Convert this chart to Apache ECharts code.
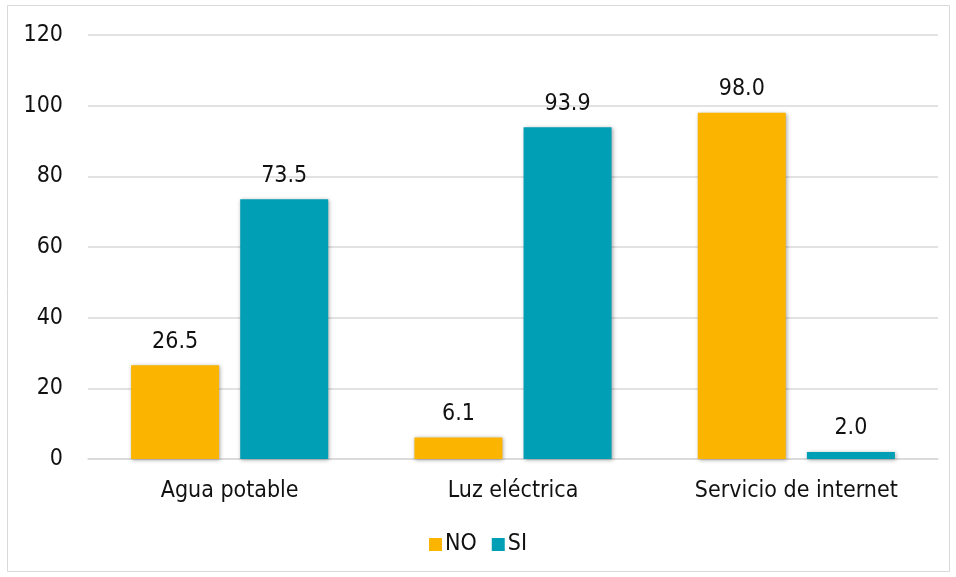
<!DOCTYPE html>
<html>
<head>
<meta charset="utf-8">
<script src="https://cdn.jsdelivr.net/npm/echarts@6/dist/echarts.min.js"></script>
<style>
  html, body { margin: 0; padding: 0; background: #fff; }
  #chart { width: 956px; height: 577px; }
</style>
</head>
<body>
<div id="chart"></div>
<script>
// Servicios básicos: porcentaje de hogares sin (NO) y con (SI) cada servicio
const categories = ['Agua potable', 'Luz eléctrica', 'Servicio de internet'];
const valuesNo = [26.5, 6.1, 98.0];
const valuesSi = [73.5, 93.9, 2.0];
const yTicks = { min: 0, max: 120, interval: 20 };

const FONT = '"DejaVu Sans Condensed", "DejaVu Sans", sans-serif';
const TEXT = '#111';
const SIZE = 23;
const shadow = { shadowBlur: 4, shadowOffsetX: 1, shadowOffsetY: 1, shadowColor: 'rgba(0,0,0,0.35)' };

const chart = echarts.init(document.getElementById('chart'), null, { renderer: 'canvas' });

const labelStyle = {
  show: true,
  position: 'top',
  distance: 12,
  color: TEXT,
  fontFamily: FONT,
  fontSize: SIZE,
  formatter: p => p.value.toFixed(1)
};

chart.setOption({
  animation: false,
  backgroundColor: '#fff',
  textStyle: { fontFamily: FONT },
  graphic: [{
    type: 'rect',
    shape: { x: 7.5, y: 5.5, width: 942, height: 566 },
    style: { fill: 'none', stroke: '#d9d9d9', lineWidth: 1 },
    silent: true
  }],
  grid: { left: 88, right: 18, top: 35, bottom: 118, containLabel: false },
  legend: {
    bottom: 16,
    left: 'center',
    itemWidth: 13,
    itemHeight: 13,
    itemGap: 15,
    icon: 'rect',
    textStyle: { color: TEXT, fontFamily: FONT, fontSize: SIZE, padding: [0, 0, 0, -2] },
    data: ['NO', 'SI']
  },
  xAxis: {
    type: 'category',
    data: categories,
    axisLine: { lineStyle: { color: '#d9d9d9', width: 1.5 } },
    axisTick: { show: false },
    axisLabel: { color: TEXT, fontFamily: FONT, fontSize: SIZE, margin: 21 }
  },
  yAxis: {
    type: 'value',
    min: yTicks.min,
    max: yTicks.max,
    interval: yTicks.interval,
    axisLine: { show: false },
    axisTick: { show: false },
    splitLine: { lineStyle: { color: '#d9d9d9', width: 1.5 } },
    axisLabel: { color: TEXT, fontFamily: FONT, fontSize: SIZE, margin: 25 }
  },
  series: [
    {
      name: 'NO',
      type: 'bar',
      data: valuesNo,
      barWidth: 88,
      barGap: '24%',
      itemStyle: Object.assign({ color: '#FBB400' }, shadow),
      label: labelStyle
    },
    {
      name: 'SI',
      type: 'bar',
      data: valuesSi,
      barWidth: 88,
      itemStyle: Object.assign({ color: '#009FB5' }, shadow),
      label: labelStyle
    }
  ]
});
</script>
</body>
</html>
